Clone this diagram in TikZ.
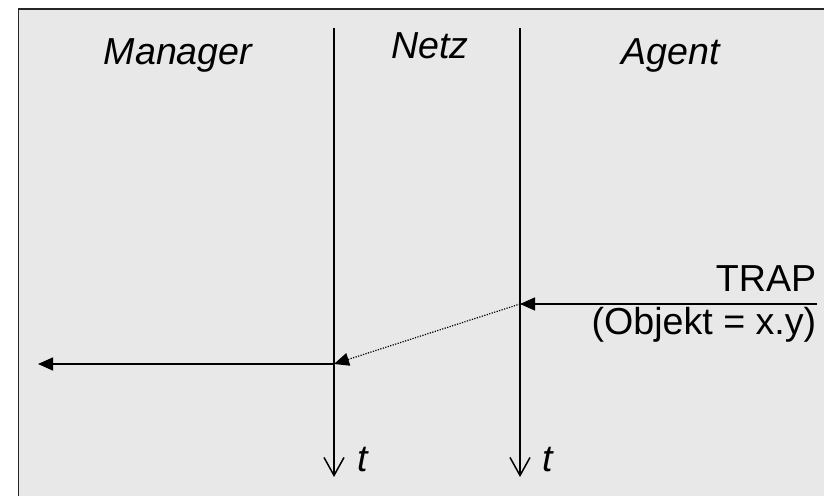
\documentclass[tikz,border=0pt]{standalone}
\usepackage{fontspec}
\setmainfont{Liberation Sans}
\usetikzlibrary{arrows.meta}

\begin{document}
\begin{tikzpicture}[x=0.5pt,y=-0.5pt,line width=0.75pt,
  lbl/.style={inner sep=0pt,font=\fontsize{18.8}{22}\selectfont\itshape},
  msg/.style={inner sep=0pt,anchor=base east,font=\fontsize{18.8}{22}\selectfont},
  life/.style={-{Straight Barb[length=9pt,width=10pt]}},
  tip/.style={-{Triangle[length=7.5pt,width=6.5pt]}}]
\useasboundingbox (0,0) rectangle (824,496);
\draw[black!85,fill=black!9] (18.5,9) rectangle (840,510);

\node[lbl,anchor=base] (manager) at (178,65) {Manager};
\node[lbl,anchor=base] (netz) at (430,59) {Netz};
\node[lbl,anchor=base] (agent) at (671,65) {Agent};

\coordinate (mtop) at (334,28);
\coordinate (mbot) at (334,477);
\coordinate (ntop) at (520,28);
\coordinate (nbot) at (520,477);
\draw[life] (mtop) -- (mbot);
\draw[life] (ntop) -- (nbot);
\node[lbl,anchor=base west] (t1) at (357,471) {t};
\node[lbl,anchor=base west] (t2) at (542,471) {t};

\node[msg] (trap) at (817,292) {TRAP};
\node[msg] (objekt) at (817,335) {(Objekt = x.y)};
\coordinate (in) at (817,304);
\coordinate (nin) at (520,304);
\coordinate (mout) at (334,364);
\coordinate (out) at (38,364);

\draw[tip] (in) -- (nin);
\draw[tip,line width=0.6pt,dash pattern=on 0.6pt off 0.7pt] (nin) -- (mout);
\draw[tip] (mout) -- (out);
\end{tikzpicture}
\end{document}
